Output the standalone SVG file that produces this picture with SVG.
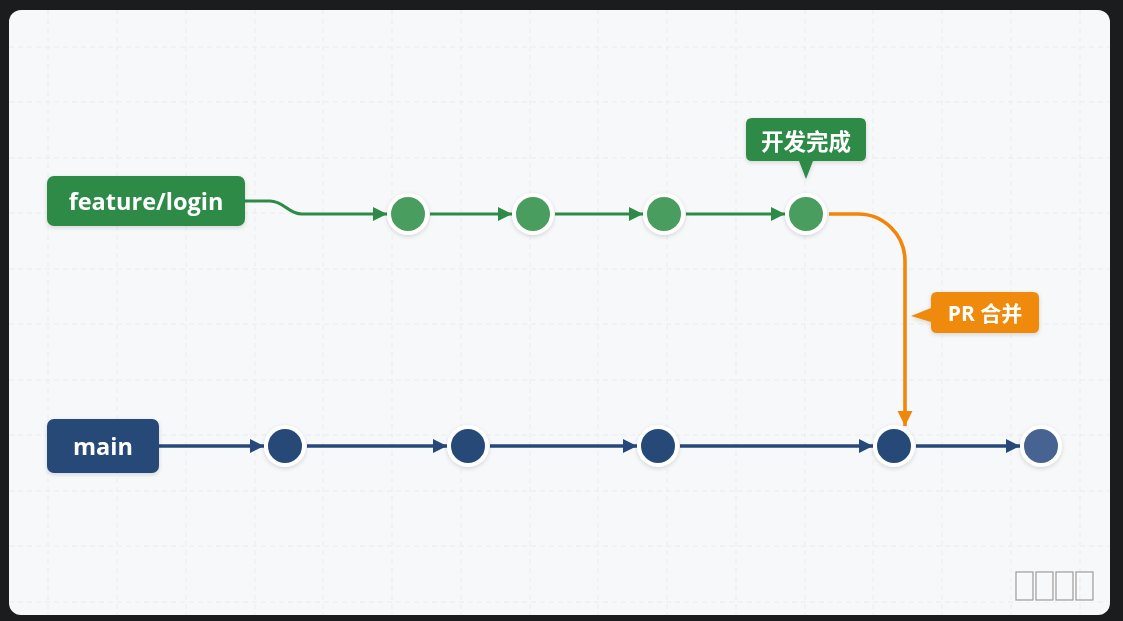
<svg xmlns="http://www.w3.org/2000/svg" width="1123" height="621" viewBox="0 0 1123 621">
<defs>
  <style>
    .grid line { stroke: #eaecee; stroke-width: 1; stroke-dasharray: 5 4; }
    .lbl { font-family: "Open Sans", "Noto Sans", "Noto Sans CJK SC", sans-serif; font-weight: 700; fill: #ffffff; text-anchor: middle; dominant-baseline: central; }
    .cjk { font-family: "Noto Sans CJK SC", "Noto Sans", sans-serif; font-weight: 700; fill: #ffffff; text-anchor: middle; dominant-baseline: central; }
    .gline { stroke: #2e8b47; stroke-width: 3.2; fill: none; }
    .nline { stroke: #26487a; stroke-width: 3.4; fill: none; }
    .oline { stroke: #f0870a; stroke-width: 3.6; fill: none; }
    .gc { fill: #4a9e5e; stroke: #ffffff; stroke-width: 4; }
    .nc { fill: #264a78; stroke: #ffffff; stroke-width: 4; }
  </style>
  <marker id="ag" markerUnits="userSpaceOnUse" markerWidth="16" markerHeight="16" refX="14" refY="8" orient="auto"><path d="M0,1 L14,8 L0,15 z" fill="#2e8b47"/></marker>
  <marker id="an" markerUnits="userSpaceOnUse" markerWidth="16" markerHeight="16" refX="14" refY="8" orient="auto"><path d="M0,1 L14,8 L0,15 z" fill="#26487a"/></marker>
  <marker id="ao" markerUnits="userSpaceOnUse" markerWidth="16" markerHeight="16" refX="15" refY="8" orient="auto"><path d="M0,0.5 L15,8 L0,15.5 z" fill="#f0870a"/></marker>
  <filter id="sh" x="-30%" y="-30%" width="160%" height="160%">
    <feDropShadow dx="0" dy="1.5" stdDeviation="2" flood-color="#000" flood-opacity="0.15"/>
  </filter>
  <clipPath id="card"><rect x="9" y="10" width="1101" height="605" rx="12"/></clipPath>
</defs>
<rect width="1123" height="621" fill="#1b1c1e"/>
<rect x="9" y="10" width="1101" height="605" rx="12" fill="#f7f8f9"/>
<g class="grid" clip-path="url(#card)">
  <line x1="48" y1="10" x2="48" y2="615"/>
  <line x1="117" y1="10" x2="117" y2="615"/>
  <line x1="186" y1="10" x2="186" y2="615"/>
  <line x1="255" y1="10" x2="255" y2="615"/>
  <line x1="323" y1="10" x2="323" y2="615"/>
  <line x1="392" y1="10" x2="392" y2="615"/>
  <line x1="461" y1="10" x2="461" y2="615"/>
  <line x1="530" y1="10" x2="530" y2="615"/>
  <line x1="598" y1="10" x2="598" y2="615"/>
  <line x1="667" y1="10" x2="667" y2="615"/>
  <line x1="736" y1="10" x2="736" y2="615"/>
  <line x1="805" y1="10" x2="805" y2="615"/>
  <line x1="873" y1="10" x2="873" y2="615"/>
  <line x1="942" y1="10" x2="942" y2="615"/>
  <line x1="1011" y1="10" x2="1011" y2="615"/>
  <line x1="1080" y1="10" x2="1080" y2="615"/>
  <line x1="9" y1="47" x2="1110" y2="47"/>
  <line x1="9" y1="102" x2="1110" y2="102"/>
  <line x1="9" y1="158" x2="1110" y2="158"/>
  <line x1="9" y1="213" x2="1110" y2="213"/>
  <line x1="9" y1="269" x2="1110" y2="269"/>
  <line x1="9" y1="324" x2="1110" y2="324"/>
  <line x1="9" y1="380" x2="1110" y2="380"/>
  <line x1="9" y1="435" x2="1110" y2="435"/>
  <line x1="9" y1="491" x2="1110" y2="491"/>
  <line x1="9" y1="546" x2="1110" y2="546"/>
  <line x1="9" y1="602" x2="1110" y2="602"/>
</g>

<g id="connectors">
  <path class="gline" d="M245,201 L270,201 C284,201 288,214 302,214 L387,214" marker-end="url(#ag)"/>
  <path class="gline" d="M430,214 L512,214" marker-end="url(#ag)"/>
  <path class="gline" d="M555,214 L643,214" marker-end="url(#ag)"/>
  <path class="gline" d="M686,214 L785,214" marker-end="url(#ag)"/>
  <path class="nline" d="M159,446 L264,446" marker-end="url(#an)"/>
  <path class="nline" d="M307,446 L447,446" marker-end="url(#an)"/>
  <path class="nline" d="M490,446 L637,446" marker-end="url(#an)"/>
  <path class="nline" d="M680,446 L873,446" marker-end="url(#an)"/>
  <path class="nline" d="M916,446 L1020,446" marker-end="url(#an)"/>
  <path class="oline" d="M829,214 L858,214 A47,47 0 0 1 905,261 L905,426" marker-end="url(#ao)"/>
</g>

<g id="branch-feature" filter="url(#sh)">
  <rect x="47" y="176" width="198" height="50" rx="7" fill="#2e8b47"/>
  <text class="lbl" x="146" y="201" font-size="23.5">feature/login</text>
</g>
<g id="branch-main" filter="url(#sh)">
  <rect x="47" y="419" width="112" height="54" rx="7" fill="#264a78"/>
  <text class="lbl" x="103" y="446" font-size="23.5">main</text>
</g>

<g id="f1" filter="url(#sh)"><circle class="gc" cx="408" cy="214" r="19"/></g>
<g id="f2" filter="url(#sh)"><circle class="gc" cx="533" cy="214" r="19"/></g>
<g id="f3" filter="url(#sh)"><circle class="gc" cx="664" cy="214" r="19"/></g>
<g id="f4" filter="url(#sh)"><circle class="gc" cx="806" cy="214" r="19"/></g>

<g id="m1" filter="url(#sh)"><circle class="nc" cx="285" cy="446" r="19"/></g>
<g id="m2" filter="url(#sh)"><circle class="nc" cx="468" cy="446" r="19"/></g>
<g id="m3" filter="url(#sh)"><circle class="nc" cx="658" cy="446" r="19"/></g>
<g id="m4" filter="url(#sh)"><circle class="nc" cx="894" cy="446" r="19"/></g>
<g id="m5" filter="url(#sh)"><circle class="nc" cx="1041" cy="446" r="19" style="fill:#476391"/></g>

<g id="tag-done" filter="url(#sh)">
  <path d="M752,118 L860,118 Q866,118 866,124 L866,155 Q866,161 860,161 L813,161 L806,179 L799,161 L752,161 Q746,161 746,155 L746,124 Q746,118 752,118 Z" fill="#2e8b47"/>
  <text class="cjk" x="806" y="140" font-size="22.5">开发完成</text>
</g>

<g id="tag-pr" filter="url(#sh)">
  <path d="M937,292 L1033,292 Q1039,292 1039,298 L1039,327 Q1039,333 1033,333 L937,333 Q931,333 931,327 L931,322 L911,316 L931,308 L931,298 Q931,292 937,292 Z" fill="#f08a0d"/>
  <text x="985" y="313" font-size="21" text-anchor="middle" dominant-baseline="central" fill="#ffffff" font-weight="700" font-family="'Open Sans', 'Noto Sans CJK SC', sans-serif">PR 合并</text>
</g>

<g id="watermark" fill="none" stroke-width="1.2">
  <g stroke="#ffffff" transform="translate(1,1)">
    <rect x="1016" y="572" width="17" height="28"/>
    <rect x="1036" y="572" width="17" height="28"/>
    <rect x="1056" y="572" width="17" height="28"/>
    <rect x="1076" y="572" width="17" height="28"/>
  </g>
  <g stroke="#9a9a9a">
    <rect x="1016" y="572" width="17" height="28"/>
    <rect x="1036" y="572" width="17" height="28"/>
    <rect x="1056" y="572" width="17" height="28"/>
    <rect x="1076" y="572" width="17" height="28"/>
  </g>
</g>
</svg>
